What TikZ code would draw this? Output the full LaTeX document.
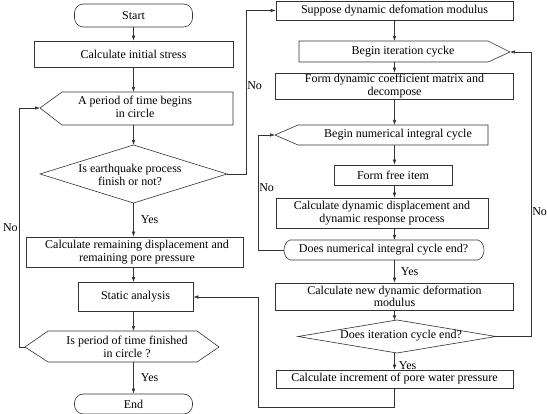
\documentclass[tikz,border=0pt]{standalone}
\usepackage{fontspec}
\setmainfont{Liberation Serif}
\usetikzlibrary{arrows.meta}
\begin{document}
\begin{tikzpicture}[x=1pt,y=-1pt,
  font=\fontsize{12}{12.5}\selectfont,
  ln/.style={line width=0.6pt, draw=black!80},
  box/.style={ln, rectangle, inner sep=0pt, align=center},
  term/.style={box, rounded corners=9pt},
  txt/.style={inner sep=0pt, align=center},
  arr/.style={ln, -{Latex[length=5pt,width=3.5pt]}},
  lbl/.style={inner sep=1pt}]
\useasboundingbox (0,0) rectangle (547,414);

% ---------- left column ----------
\node[term, minimum width=118, minimum height=23] (start) at (133.5,15.5) {Start};
\node[box, minimum width=199, minimum height=26] (init) at (133.5,54) {Calculate initial stress};
\draw[ln] (40,108) coordinate (periodL) -- (62,92) -- (233,92) -- (233,125) -- (62,125) -- cycle;
\coordinate (periodT) at (133.5,92);
\coordinate (periodB) at (133.5,125);
\node[txt] (period) at (135,107) {A period of time begins\\in circle};

\draw[ln] (40,174) coordinate (eqL) -- (133.5,145) coordinate (eqT) -- (227,174) coordinate (eqR) -- (133.5,203) coordinate (eqB) -- cycle;
\node[txt] (eq) at (130,175) {Is earthquake process\\finish or not?};

\node[box, minimum width=217, minimum height=30] (remain) at (134.5,252) {};
\node[txt] (remaintxt) at (137,252) {Calculate remaining displacement and\\remaining pore pressure};

\node[box, minimum width=115, minimum height=29] (static) at (135.5,297) {Static analysis};

\draw[ln] (25,347) coordinate (finL) -- (48,331) -- (197,331) -- (219,347) coordinate (finR) -- (197,362) -- (48,362) -- cycle;
\coordinate (finT) at (133.5,331);
\coordinate (finB) at (133.5,362);
\node[txt] (fin) at (127,347) {Is period of time finished\\in circle ?};

\node[term, minimum width=118, minimum height=20] (end) at (133.5,404) {End};

% ---------- right column ----------
\node[box, minimum width=237, minimum height=19] (suppose) at (394.5,10.5) {Suppose dynamic defomation modulus};
\draw[ln] (299,41) -- (488,41) -- (510,52) coordinate (iterR) -- (488,62) -- (299,62) -- cycle;
\coordinate (iterT) at (394.5,41);
\coordinate (iterB) at (394.5,62);
\node[txt] (iter) at (403,52) {Begin iteration cycke};

\node[box, minimum width=238, minimum height=26] (coeff) at (394.5,86) {Form dynamic coefficient matrix and\\decompose};

\draw[ln] (275,135) coordinate (numL) -- (298,125) -- (488,125) -- (488,145) -- (298,145) -- cycle;
\coordinate (numT) at (394.5,125);
\coordinate (numB) at (394.5,145);
\node[txt] (num) at (398,135) {Begin numerical integral cycle};

\node[box, minimum width=118, minimum height=20] (free) at (393,175) {Form free item};
\node[box, minimum width=212, minimum height=30] (dyn) at (382,213) {Calculate dynamic displacement and\\dynamic response process};

\draw[ln] (290,240) -- (478,240) .. controls (486,243) and (486,257) .. (478,260)
  -- (290,260) .. controls (282,257) and (282,243) .. (290,240);
\coordinate (numendL) at (284,250);
\coordinate (numendT) at (394.5,240);
\coordinate (numendB) at (394.5,260);
\node[txt] (numend) at (383.5,250) {Does numerical integral cycle end?};

\node[box, minimum width=238, minimum height=27] (newmod) at (394.5,296.5) {Calculate new dynamic deformation\\modulus};

\draw[ln] (298,336.5) coordinate (itendL) -- (397,320) coordinate (itendTop) -- (496,336.5) coordinate (itendR) -- (397,353) coordinate (itendBot) -- cycle;
\coordinate (itendT) at (394.5,320.4);
\coordinate (itendB) at (394.5,352.6);
\node[txt] (itend) at (401,336) {Does iteration cycle end?};

\node[box, minimum width=237, minimum height=18] (incr) at (394.5,379) {Calculate increment of pore water pressure};

% ---------- connectors, left ----------
\draw[arr] (start) -- (init);
\draw[arr] (init) -- (periodT);
\draw[arr] (periodB) -- (eqT);
\draw[arr] (eqB) -- (eqB |- remain.north) node[lbl, midway, right, xshift=6pt] {Yes};
\draw[arr] (remain.south -| eqB) -- (static.north -| eqB);
\draw[arr] (static.south -| eqB) -- (finT);
\draw[arr] (finB) -- (finB |- end.north) node[lbl, midway, right, xshift=6pt] {Yes};
\coordinate (lloop) at (19,347);
\draw[arr] (finL) -- (lloop) |- (periodL) node[lbl, pos=0.25, left] {No};
\coordinate (rloop) at (246,174);
\draw[arr] (eqR) -- (rloop) |- (suppose.west) node[lbl, pos=0.27, right] {No};

% ---------- connectors, right ----------
\draw[arr] (suppose) -- (iterT);
\draw[arr] (iterB) -- (coeff);
\draw[arr] (coeff) -- (numT);
\draw[arr] (numB) -- (numB |- free.north);
\draw[arr] (free.south -| numB) -- (dyn.north -| numB);
\draw[arr] (dyn.south -| numB) -- (numendT);
\draw[arr] (numendB) -- (numendB |- newmod.north) node[lbl, midway, right, xshift=5pt] {Yes};
\draw[arr] (newmod) -- (itendT);
\draw[arr] (itendB) -- (incr) node[lbl, pos=0.75, right, xshift=3pt] {Yes};
\coordinate (nloop) at (258,250);
\draw[arr] (numendL) -- (nloop) |- (numL) node[lbl, pos=0.27, right] {No};
\coordinate (iloop) at (531,336.5);
\draw[arr] (itendR) -- (iloop) |- (iterR) node[inner sep=0pt, pos=0.22, right, xshift=1pt] {No};
\coordinate (sloop1) at (394.5,407);
\coordinate (sloop2) at (258,407);
\draw[arr] (incr.south) -- (sloop1) -- (sloop2) |- (static.east);
\end{tikzpicture}
\end{document}
